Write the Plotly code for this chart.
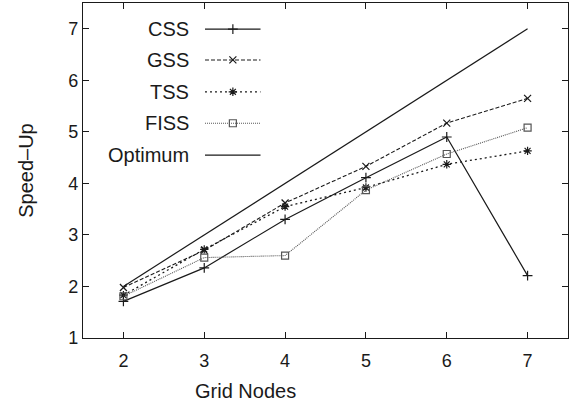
import plotly.graph_objects as go

nodes = [2, 3, 4, 5, 6, 7]
css = [1.71, 2.36, 3.30, 4.11, 4.90, 2.21]
gss = [1.98, 2.70, 3.62, 4.33, 5.17, 5.65]
tss = [1.83, 2.72, 3.55, 3.92, 4.37, 4.63]
fiss = [1.81, 2.56, 2.60, 3.87, 4.57, 5.08]
optimum = [2, 3, 4, 5, 6, 7]

names = ["CSS", "GSS", "TSS", "FISS", "Optimum"]
series = [css, gss, tss, fiss, optimum]
styles = [
    dict(color="#1a1a1a", dash="solid", symbol="cross-thin", width=1.2),
    dict(color="#1a1a1a", dash="4px,2px", symbol="x-thin", width=1.1),
    dict(color="#1a1a1a", dash="2px,3px", symbol="asterisk", width=1.3),
    dict(color="#555555", dash="1px,1px", symbol="square-open", width=1.1),
    dict(color="#1a1a1a", dash="solid", symbol=None, width=1.2),
]

fig = go.Figure()
for name, ys, st in zip(names, series, styles):
    mode = "lines+markers" if st["symbol"] else "lines"
    marker = dict(symbol=st["symbol"], size=7, color=st["color"],
                  line=dict(color=st["color"], width=1.2)) if st["symbol"] else None
    fig.add_trace(go.Scatter(x=nodes, y=ys, mode=mode, name=name,
                             line=dict(color=st["color"], width=st["width"], dash=st["dash"]),
                             marker=marker, showlegend=False))

# manual legend (text left, sample right) on hidden overlay axes
leg_y = [0.922, 0.830, 0.735, 0.641, 0.546]
for name, st, ly in zip(names, styles, leg_y):
    fig.add_trace(go.Scatter(x=[0.2515, 0.366], y=[ly, ly], mode="lines",
                             xaxis="x2", yaxis="y2", showlegend=False, hoverinfo="skip",
                             line=dict(color=st["color"], width=st["width"], dash=st["dash"])))
    if st["symbol"]:
        fig.add_trace(go.Scatter(x=[0.309], y=[ly], mode="markers",
                                 xaxis="x2", yaxis="y2", showlegend=False, hoverinfo="skip",
                                 marker=dict(symbol=st["symbol"], size=7, color=st["color"],
                                             line=dict(color=st["color"], width=1.2))))
    fig.add_annotation(x=0.223, y=ly, xref="paper", yref="paper", text=name,
                       showarrow=False, xanchor="right", yanchor="middle",
                       font=dict(size=20, color="#1a1a1a"))

# axis titles as annotations
fig.add_annotation(x=0.335, y=-0.158, xref="paper", yref="paper", text="Grid Nodes",
                   showarrow=False, xanchor="center", yanchor="middle",
                   font=dict(size=20, color="#1a1a1a"))
fig.add_annotation(x=-0.119, y=0.5, xref="paper", yref="paper", text="Speed\u2013Up",
                   showarrow=False, xanchor="center", yanchor="middle", textangle=-90,
                   font=dict(size=20, color="#1a1a1a"))

axis_common = dict(showgrid=False, zeroline=False, showline=True, linecolor="#1a1a1a",
                   linewidth=1.2, mirror="ticks", ticks="inside", ticklen=6,
                   tickcolor="#1a1a1a", tickfont=dict(size=18, color="#1a1a1a"),
                   automargin=False)

fig.update_layout(
    width=574, height=404,
    margin=dict(l=83, r=6, t=3, b=66),
    paper_bgcolor="white", plot_bgcolor="white",
    font=dict(family="Liberation Sans, Arial, sans-serif", color="#1a1a1a"),
    xaxis=dict(range=[1.5, 7.5], tickvals=nodes, ticklabelstandoff=6, **axis_common),
    yaxis=dict(range=[1, 7.5], tickvals=[1, 2, 3, 4, 5, 6, 7], **axis_common),
    xaxis2=dict(range=[0, 1], overlaying="x", visible=False, fixedrange=True),
    yaxis2=dict(range=[0, 1], overlaying="y", visible=False, fixedrange=True),
)

fig.write_html("out.html", config={"responsive": False, "displayModeBar": False},
               post_script="document.body.style.margin='0';document.body.style.overflow='hidden';")
